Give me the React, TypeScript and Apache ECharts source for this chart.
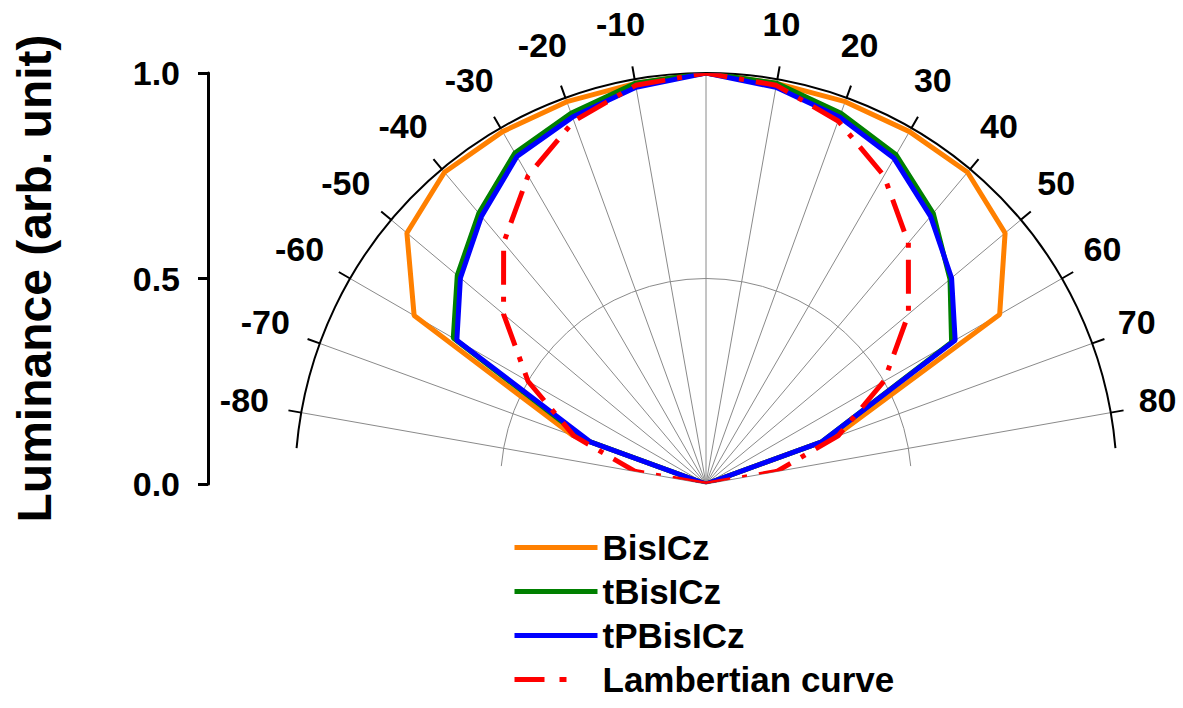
import { useEffect, useRef } from 'react';
import * as echarts from 'echarts';

const FONT = '"Liberation Sans", Arial, Helvetica, sans-serif';

// Emission angle, degrees from the surface normal
const angles = [-90, -80, -70, -60, -50, -40, -30, -20, -10, 0, 10, 20, 30, 40, 50, 60, 70, 80, 90];

// Normalised luminance at each angle
const bisICz = [0, 0, 0.345, 0.82, 0.95, 0.99, 0.99, 0.99, 0.99, 1.0, 0.99, 0.99, 0.99, 0.99, 0.95, 0.825, 0.33, 0, 0];
const tBisICz = [0, 0, 0.31, 0.71, 0.79, 0.86, 0.93, 0.96, 0.99, 1.0, 0.99, 0.96, 0.925, 0.86, 0.775, 0.69, 0.3, 0, 0];
const tPBisICz = [0, 0, 0.3, 0.7, 0.78, 0.85, 0.92, 0.95, 0.98, 1.0, 0.98, 0.95, 0.915, 0.85, 0.78, 0.7, 0.3, 0, 0];
const lambertian = [0, 0.174, 0.342, 0.5, 0.643, 0.766, 0.866, 0.94, 0.985, 1.0, 0.985, 0.94, 0.866, 0.766, 0.643, 0.5, 0.342, 0.174, 0];

const seriesNames = ['BisICz', 'tBisICz', 'tPBisICz', 'Lambertian curve'];
const seriesColors = ['#FF8000', '#008000', '#0000FF', '#FF0000'];

// Angle tick labels around the outer arc (no label at the normal)
const angleTickLabels = [-80, -70, -60, -50, -40, -30, -20, -10, 10, 20, 30, 40, 50, 60, 70, 80];

// Luminance axis ticks
const luminanceTicks = [0, 0.5, 1.0];

// Layout
const CX = 706;
const CY = 484;
const R = 411;
const LABEL_R = 1.128; // radius (in luminance units) where angle labels sit
const DASH_DOT = [34, 12, 5, 12];

const hiddenAxis = {
  axisLine: { show: false },
  axisTick: { show: false },
  axisLabel: { show: false },
  splitLine: { show: false },
};

function buildOption() {
  const toPolar = (vals: number[]) => angles.map((a, i) => [vals[i], a]);
  const lineSeries = [bisICz, tBisICz, tPBisICz, lambertian].map((vals, i) => ({
    type: 'line',
    name: seriesNames[i],
    coordinateSystem: 'polar',
    polarIndex: 2,
    data: toPolar(vals),
    symbol: 'none',
    silent: true,
    clip: false,
    z: 3 + i,
    itemStyle: { color: seriesColors[i] },
    lineStyle: {
      color: seriesColors[i],
      width: 5,
      type: i === 3 ? DASH_DOT : 'solid',
    },
  }));

  return {
    animation: false,
    backgroundColor: '#ffffff',
    textStyle: { fontFamily: FONT },
    polar: [
      { center: [CX, CY], radius: R / 2 },
      { center: [CX, CY], radius: R },
      { center: [CX, CY], radius: R },
    ],
    angleAxis: [
      {
        polarIndex: 0, type: 'value', min: -85, max: 85,
        startAngle: 175, endAngle: 5, clockwise: true,
        ...hiddenAxis,
      },
      {
        polarIndex: 1, type: 'value', min: -85, max: 85,
        startAngle: 175, endAngle: 5, clockwise: true,
        z: 4,
        axisLine: { show: true, lineStyle: { color: '#000', width: 2 } },
        axisTick: {
          show: true, length: 13, customValues: angleTickLabels,
          lineStyle: { color: '#000', width: 2 },
        },
        axisLabel: { show: false },
        splitLine: { show: false },
      },
      {
        polarIndex: 2, type: 'value', min: -80, max: 80, interval: 10,
        startAngle: 170, endAngle: 10, clockwise: true,
        axisLine: { show: false },
        axisTick: { show: false },
        axisLabel: { show: false },
        splitLine: { show: true, lineStyle: { color: '#8a8a8a', width: 1 } },
      },
    ],
    radiusAxis: [
      {
        polarIndex: 0, type: 'value', min: 0, max: 0.5, interval: 0.5,
        axisLine: { show: false },
        axisTick: { show: false },
        axisLabel: { show: false },
        splitLine: { show: true, lineStyle: { color: '#8a8a8a', width: 1 } },
      },
      { polarIndex: 1, type: 'value', min: 0, max: 1, ...hiddenAxis },
      { polarIndex: 2, type: 'value', min: 0, max: 1, ...hiddenAxis },
    ],
    grid: { left: 208, top: CY - R, height: R, width: 1 },
    xAxis: { type: 'value', show: false, min: 0, max: 1 },
    yAxis: {
      type: 'value',
      min: luminanceTicks[0],
      max: luminanceTicks[luminanceTicks.length - 1],
      interval: 0.5,
      name: 'Luminance (arb. unit)',
      nameLocation: 'middle',
      nameGap: 150,
      nameTextStyle: { fontSize: 48, fontWeight: 'bold', color: '#000', fontFamily: FONT },
      axisLine: { show: true, lineStyle: { color: '#000', width: 3 } },
      axisTick: { show: true, length: 10, lineStyle: { color: '#000', width: 3 } },
      axisLabel: {
        margin: 28, fontSize: 34, fontWeight: 'bold', color: '#000', fontFamily: FONT,
        formatter: (v: number) => v.toFixed(1),
      },
      splitLine: { show: false },
    },
    legend: {
      data: seriesNames.map((name, i) =>
        i === 3 ? { name, lineStyle: { type: [30, 15, 7, 40] } } : { name }
      ),
      orient: 'vertical',
      left: 507,
      top: 525,
      itemWidth: 83,
      itemHeight: 10,
      itemGap: 9,
      selectedMode: false,
      itemStyle: { opacity: 0 },
      lineStyle: { width: 5 },
      textStyle: { fontSize: 35, fontWeight: 'bold', color: '#000', fontFamily: FONT },
    },
    series: [
      ...lineSeries,
      {
        type: 'scatter',
        name: 'angle',
        coordinateSystem: 'polar',
        polarIndex: 2,
        data: angleTickLabels.map((a) => [LABEL_R, a]),
        symbolSize: 0,
        silent: true,
        clip: false,
        itemStyle: { color: '#000', opacity: 1 },
        label: {
          show: true,
          position: 'inside',
          offset: [-5, -3],
          formatter: (p: any) => String(p.value[1]),
          fontSize: 34,
          fontWeight: 'bold',
          color: '#000',
          opacity: 1,
          fontFamily: FONT,
        },
      },
    ],
  };
}

export default function App() {
  const ref = useRef<HTMLDivElement>(null);
  useEffect(() => {
    if (!ref.current) return;
    const chart = echarts.init(ref.current, undefined, { renderer: 'svg' });
    chart.setOption(buildOption() as any);
    return () => chart.dispose();
  }, []);
  return (
    <div
      ref={ref}
      style={{ position: 'fixed', left: 0, top: 0, width: 1183, height: 708, background: '#fff' }}
    />
  );
}
